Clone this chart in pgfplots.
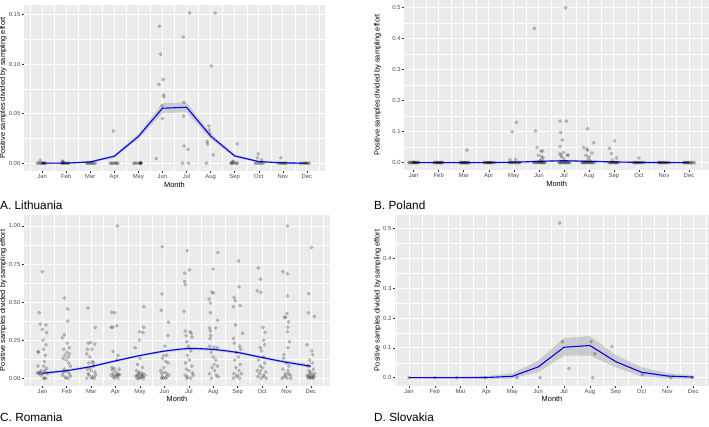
\documentclass[border=0pt]{standalone}
\usepackage{pgfplots}
\pgfplotsset{compat=1.18}
\usepackage{fontspec}
\setmainfont{Liberation Sans}
\definecolor{ggbg}{HTML}{EBEBEB}
\definecolor{ggtick}{HTML}{333333}
\definecolor{gglab}{HTML}{4D4D4D}
\definecolor{ggband}{HTML}{999999}
\newcommand{\labfont}{\fontsize{7.4}{8}\selectfont}
\newcommand{\tickfont}{\fontsize{5.9}{6}\selectfont}
\newcommand{\panelfont}{\fontsize{11.8}{12}\selectfont}
\pgfplotsset{
  ggp/.style={
    scale only axis,
    axis background/.style={fill=ggbg},
    axis line style={draw=none},
    grid=both,
    major grid style={white, line width=0.9pt},
    minor grid style={white, line width=0.45pt},
    tick pos=left, tick align=outside,
    major tick length=2pt, minor tick length=0pt,
    tick style={ggtick, line width=0.5pt},
    xtick={1,2,3,4,5,6,7,8,9,10,11,12},
    xticklabels={Jan,Feb,Mar,Apr,May,Jun,Jul,Aug,Sep,Oct,Nov,Dec},
    minor xtick={0.5,1.5,2.5,3.5,4.5,5.5,6.5,7.5,8.5,9.5,10.5,11.5,12.5},
    ticklabel style={font=\tickfont, text=gglab},
    xticklabel style={inner sep=1.5pt},
    yticklabel style={inner sep=1.5pt},
    /pgf/number format/assume math mode=true,
    xlabel={Month},
    ylabel={Positive samples divided by sampling effort},
    every axis x label/.style={at={([yshift=-13.5pt]axis description cs:0.5,0)}, anchor=center, font=\labfont},
    clip=true,
  },
  ylab/.style={every axis y label/.style={at={([xshift=#1]axis description cs:0,0.5)}, rotate=90, anchor=center, font=\labfont}},
  pts/.style={only marks, mark=*, mark size=1.7pt,
    mark options={fill=black, fill opacity=0.2, draw=black, draw opacity=0.22, line width=0.35pt}},
  band/.style={fill=ggband, fill opacity=0.4, draw=none},
  fit/.style={blue, line width=1.1pt},
}
\begin{document}
\begin{tikzpicture}
\path[use as bounding box] (0,0) rectangle (709pt,426pt);
% ---------------- A. Lithuania
\begin{axis}[ggp, at={(24pt,255pt)}, anchor=south west, width=301pt, height=166pt,
  xmin=0.25, xmax=12.75, ymin=-0.0079, ymax=0.1598,
  ytick={0,0.05,0.1,0.15}, minor ytick={0.025,0.075,0.125},
  yticklabel style={/pgf/number format/.cd, fixed, fixed zerofill, precision=2},
  ylab=-20.7pt]
\addplot[pts] coordinates {
(0.80,0) (0.86,0) (0.92,0) (0.97,0) (1.02,0) (1.06,0) (1.10,0) (1.15,0) (1.04,0) (0.92,0.003)
(1.82,0) (1.86,0) (1.90,0) (1.95,0) (2.00,0) (2.05,0) (2.10,0) (1.84,0.002) (1.88,0.0015)
(2.85,0) (2.90,0) (2.95,0) (3.00,0) (3.05,0) (3.10,0) (3.15,0) (3.22,0)
(3.97,0.0326) (3.83,0) (3.88,0) (3.94,0) (4.00,0) (4.05,0) (4.10,0) (4.15,0)
(4.80,0) (4.86,0) (4.92,0) (5.02,0) (5.06,0) (5.08,0) (5.10,0) (5.12,0) (5.09,0.0005)
(5.88,0.1383) (5.92,0.110) (5.85,0.0795) (6.03,0.0846) (6.06,0.067) (6.05,0.069) (5.98,0.058) (6.00,0.045) (5.74,0.0047)
(7.13,0.1517) (6.86,0.1275) (6.89,0.0614) (6.88,0.0477) (6.90,0.0175) (7.06,0.014) (6.83,0) (7.08,0)
(8.19,0.1517) (8.03,0.0983) (7.93,0.0376) (7.95,0.0336) (7.86,0.0218) (7.87,0.0195) (8.11,0.0084) (7.82,0) (7.98,0.030)
(9.10,0.0195) (8.84,0) (8.88,0) (8.92,0) (8.96,0.002) (9.00,0) (9.06,0) (9.12,0) (8.90,0.0015)
(9.98,0.0094) (9.95,0.0054) (10.12,0.003) (9.85,0) (9.92,0) (10.00,0) (10.06,0) (10.12,0) (10.20,0)
(10.92,0.0054) (10.80,0) (10.88,0) (10.95,0) (11.00,0) (11.05,0) (11.10,0) (11.15,0)
(11.72,0) (11.80,0) (11.88,0) (11.95,0) (12.00,0) (12.05,0) (12.10,0)
};
\addplot[band] coordinates {
(1,0.0008) (2,0.0008) (3,0.0022) (4,0.0085) (5,0.0295) (6,0.0605) (7,0.0615) (8,0.0300) (9,0.0088) (10,0.0025) (11,0.0010) (12,0.0008)
(12,-0.0008) (11,-0.0004) (10,0.0008) (9,0.0060) (8,0.0245) (7,0.0515) (6,0.0505) (5,0.0245) (4,0.0055) (3,0.0004) (2,-0.0008) (1,-0.0008)
} -- cycle;
\addplot[fit] coordinates {
(1,0) (2,0) (3,0.0013) (4,0.007) (5,0.027) (6,0.0555) (7,0.0565) (8,0.0275) (9,0.0073) (10,0.0016) (11,0.0003) (12,0)
};
\end{axis}
\node[anchor=base west, inner sep=0pt, font=\panelfont] at (0pt,216.7pt) {A. Lithuania};
% ---------------- B. Poland
\begin{axis}[ggp, at={(404.3pt,256pt)}, anchor=south west, width=304.7pt, height=170pt,
  xmin=0.625, xmax=12.8, ymin=-0.024, ymax=0.525,
  ytick={0,0.1,0.2,0.3,0.4,0.5}, minor ytick={0.05,0.15,0.25,0.35,0.45},
  yticklabel style={/pgf/number format/.cd, fixed, fixed zerofill, precision=1},
  ylab=-26.6pt]
\addplot[pts] coordinates {
(0.80,0) (0.84,0) (0.88,0) (0.92,0) (0.95,0) (0.98,0) (1.01,0) (1.04,0) (1.07,0) (1.10,0) (1.13,0) (1.17,0) (1.21,0) (1.00,0.002)
(1.80,0) (1.84,0) (1.88,0) (1.92,0) (1.95,0) (1.98,0) (2.01,0) (2.04,0) (2.07,0) (2.10,0) (2.13,0) (2.17,0)
(2.85,0) (2.88,0) (2.92,0) (2.95,0) (2.98,0) (3.01,0) (3.04,0) (3.07,0) (3.10,0) (3.14,0) (3.18,0) (3.22,0) (3.13,0.040)
(3.80,0) (3.84,0) (3.88,0) (3.92,0) (3.95,0) (3.98,0) (4.01,0) (4.04,0) (4.07,0) (4.10,0) (4.15,0) (4.22,0)
(4.94,0.100) (5.10,0.130) (4.85,0.009) (5.07,0.010) (4.80,0) (4.85,0) (4.90,0) (4.95,0) (5.00,0) (5.05,0) (5.10,0) (5.15,0) (5.20,0) (5.24,0)
(5.82,0.433) (5.87,0.102) (5.93,0.049) (5.98,0.024) (6.08,0.037) (6.15,0.037) (6.10,0.020) (6.17,0.016) (6.12,0.010) (6.03,0.006)
(5.78,0) (5.83,0) (5.88,0) (5.93,0) (5.97,0) (6.01,0) (6.05,0) (6.09,0) (6.13,0) (6.17,0) (6.21,0) (6.25,0)
(7.07,0.500) (6.85,0.134) (7.10,0.134) (6.87,0.097) (6.94,0.073) (6.85,0.052) (6.84,0.028) (6.88,0.024) (6.98,0.032) (7.13,0.024) (7.18,0.024) (6.92,0.018) (7.00,0.012)
(6.80,0) (6.84,0) (6.88,0) (6.92,0) (6.96,0) (7.00,0) (7.04,0) (7.08,0) (7.12,0) (7.16,0) (7.20,0) (7.25,0)
(7.95,0.109) (7.79,0.049) (7.92,0.044) (7.95,0.039) (7.89,0.023) (8.19,0.064) (8.12,0.031) (8.01,0.019) (7.97,0.011) (8.05,0.006)
(7.72,0) (7.76,0) (7.80,0) (7.84,0) (7.88,0) (7.92,0) (7.96,0) (8.00,0) (8.04,0) (8.08,0) (8.12,0) (8.16,0) (8.22,0)
(9.03,0.070) (8.82,0.046) (8.90,0.029) (9.10,0.015) (8.94,0.008) (8.80,0) (8.84,0) (8.88,0) (8.92,0) (8.96,0) (9.00,0) (9.04,0) (9.08,0) (9.12,0) (9.17,0)
(10.00,0.015) (9.78,0) (9.82,0) (9.86,0) (9.90,0) (9.94,0) (9.98,0) (10.02,0) (10.06,0) (10.10,0) (10.15,0) (10.22,0)
(10.78,0) (10.82,0) (10.86,0) (10.90,0) (10.94,0) (10.98,0) (11.02,0) (11.06,0) (11.10,0) (11.15,0) (11.22,0)
(11.78,0) (11.82,0) (11.86,0) (11.90,0) (11.94,0) (11.98,0) (12.02,0) (12.06,0) (12.10,0) (12.15,0) (12.22,0)
};
\addplot[band] coordinates {
(1,0.002) (2,0.002) (3,0.002) (4,0.002) (5,0.003) (6,0.007) (7,0.009) (8,0.007) (9,0.004) (10,0.002) (11,0.002) (12,0.002)
(12,-0.002) (11,-0.002) (10,-0.001) (9,0) (8,0.001) (7,0.003) (6,0.001) (5,-0.001) (4,-0.002) (3,-0.002) (2,-0.002) (1,-0.002)
} -- cycle;
\addplot[fit] coordinates {
(1,0) (2,0) (3,0) (4,0) (5,0.001) (6,0.004) (7,0.006) (8,0.004) (9,0.002) (10,0.0005) (11,0) (12,0)
};
\end{axis}
\node[anchor=base west, inner sep=0pt, font=\panelfont] at (374pt,216.7pt) {B. Poland};
% ---------------- C. Romania
\begin{axis}[ggp, at={(24pt,40.3pt)}, anchor=south west, width=306pt, height=170.7pt,
  xmin=0.25, xmax=12.78, ymin=-0.049, ymax=1.072,
  ytick={0,0.25,0.5,0.75,1}, minor ytick={0.125,0.375,0.625,0.875},
  yticklabel style={/pgf/number format/.cd, fixed, fixed zerofill, precision=2},
  ylab=-20.7pt]
\addplot[pts] coordinates {
(1.00,0.70) (0.87,0.43) (0.92,0.355) (1.15,0.35) (1.00,0.32) (1.18,0.30) (1.03,0.25) (1.15,0.22) (0.82,0.175) (0.85,0.17) (1.05,0.19) (1.12,0.15) (1.08,0.11) (1.05,0.08) (0.82,0.08) (1.17,0.065) (0.80,0.035) (0.92,0.035) (1.00,0.03) (1.05,0.0) (1.15,0.0) (0.88,0.04) (1.10,0.05) (0.95,0.02) (1.20,0.03) (0.85,0.03) (1.08,0.0) (0.96,0.05)
(1.91,0.527) (2.04,0.455) (2.04,0.375) (1.82,0.265) (1.90,0.285) (2.02,0.23) (2.10,0.20) (1.88,0.19) (2.00,0.17) (2.12,0.16) (1.85,0.13) (1.98,0.12) (2.08,0.10) (2.15,0.08) (1.90,0.06) (2.00,0.045) (2.10,0.03) (1.83,0.02) (1.95,0.01) (2.05,0.0) (2.15,0.015) (1.87,0.04) (1.93,0.15) (2.06,0.14) (1.97,0.0)
(2.87,0.462) (3.17,0.333) (2.88,0.23) (2.98,0.235) (3.15,0.225) (2.85,0.19) (3.03,0.19) (2.82,0.16) (2.95,0.14) (3.05,0.11) (2.90,0.10) (3.10,0.08) (2.85,0.06) (3.00,0.05) (3.15,0.04) (2.92,0.02) (3.05,0.01) (2.82,0.0) (3.12,0.0) (2.97,0.07) (3.08,0.10) (2.88,0.03) (3.02,0.0) (3.18,0.02)
(4.07,1.0) (3.84,0.433) (3.96,0.43) (3.82,0.335) (3.88,0.335) (4.05,0.345) (3.90,0.175) (4.10,0.15) (4.05,0.12) (3.85,0.07) (3.95,0.065) (4.15,0.06) (4.00,0.045) (3.90,0.03) (4.12,0.02) (4.05,0.015) (3.82,0.02) (3.95,0.0) (4.17,0.025) (4.10,0.0) (3.87,0.055) (4.02,0.02) (3.92,0.01) (4.08,0.03)
(5.16,0.47) (5.15,0.335) (4.98,0.305) (5.12,0.30) (4.98,0.25) (4.80,0.20) (5.00,0.13) (4.90,0.09) (5.10,0.07) (4.85,0.05) (5.00,0.04) (5.12,0.03) (4.90,0.02) (5.05,0.01) (4.95,0.0) (5.15,0.0) (4.83,0.015) (5.07,0.025) (5.20,0.02) (4.93,0.035) (5.02,0.0) (5.10,0.01) (4.88,0.0) (4.97,0.02)
(5.91,0.864) (5.90,0.553) (5.87,0.446) (6.17,0.368) (6.15,0.28) (6.02,0.21) (5.98,0.15) (6.10,0.15) (5.92,0.13) (6.05,0.11) (6.15,0.10) (5.98,0.07) (5.85,0.05) (6.10,0.03) (5.92,0.01) (6.05,0.0) (5.88,0.0) (6.18,0.02) (6.00,0.04) (5.95,0.0) (6.08,0.01) (5.90,0.03)
(6.93,0.838) (7.03,0.711) (6.83,0.69) (6.82,0.635) (6.86,0.615) (6.80,0.44) (6.85,0.31) (7.05,0.305) (7.10,0.295) (6.92,0.24) (6.98,0.21) (7.08,0.18) (6.95,0.15) (7.02,0.12) (6.87,0.10) (7.12,0.08) (6.90,0.06) (7.00,0.05) (7.15,0.035) (6.85,0.02) (6.95,0.01) (7.08,0.0) (6.92,0.0) (7.18,0.02) (6.89,0.28) (7.13,0.27)
(8.19,0.825) (7.99,0.717) (7.94,0.566) (8.01,0.56) (7.83,0.52) (7.88,0.495) (7.88,0.43) (8.18,0.38) (7.85,0.33) (7.88,0.31) (8.10,0.33) (7.90,0.28) (7.85,0.21) (8.02,0.205) (8.16,0.20) (7.92,0.17) (8.00,0.14) (8.10,0.12) (8.17,0.08) (7.95,0.07) (8.05,0.05) (7.85,0.03) (8.12,0.02) (7.93,0.0) (8.20,0.01) (7.87,0.26) (8.03,0.09)
(9.04,0.77) (9.06,0.60) (8.85,0.53) (8.90,0.51) (9.10,0.477) (8.82,0.47) (8.92,0.35) (9.20,0.295) (8.83,0.26) (9.08,0.21) (9.12,0.19) (8.95,0.17) (9.02,0.14) (8.88,0.12) (9.10,0.09) (8.93,0.07) (9.05,0.05) (8.85,0.03) (9.15,0.03) (8.95,0.01) (8.82,0.0) (9.08,0.0) (9.00,0.02) (8.86,0.23)
(9.84,0.724) (9.94,0.65) (9.80,0.575) (9.95,0.565) (10.03,0.335) (10.12,0.30) (10.06,0.25) (10.10,0.22) (9.93,0.20) (9.98,0.18) (10.05,0.14) (9.85,0.12) (10.10,0.10) (9.92,0.08) (10.02,0.07) (9.80,0.05) (10.15,0.04) (9.90,0.03) (10.05,0.02) (9.97,0.0) (10.17,0.0) (9.83,0.01) (9.95,0.05) (10.08,0.01)
(11.04,1.0) (10.85,0.70) (11.04,0.686) (11.05,0.54) (11.02,0.425) (10.92,0.40) (10.96,0.40) (11.08,0.37) (11.05,0.335) (11.03,0.305) (11.12,0.24) (10.90,0.155) (11.06,0.20) (10.88,0.13) (11.00,0.10) (11.10,0.08) (10.85,0.06) (11.05,0.05) (10.95,0.03) (11.15,0.02) (10.90,0.01) (11.02,0.0) (11.18,0.0) (10.82,0.0) (11.08,0.03) (10.98,0.015)
(12.02,0.858) (11.91,0.555) (11.90,0.43) (12.14,0.405) (11.84,0.22) (12.03,0.18) (12.07,0.155) (11.95,0.12) (12.05,0.10) (11.88,0.08) (12.10,0.06) (11.92,0.05) (12.00,0.04) (12.15,0.03) (11.85,0.02) (11.95,0.015) (12.05,0.01) (12.10,0.0) (11.90,0.0) (12.00,0.0) (11.98,0.005) (12.08,0.02) (11.87,0.01) (12.13,0.01) (11.96,0.03)
};
\addplot[band] coordinates {
(1,0.043) (2,0.058) (3,0.084) (4,0.121) (5,0.156) (6,0.186) (7,0.204) (8,0.198) (9,0.177) (10,0.144) (11,0.114) (12,0.090)
(12,0.068) (11,0.096) (10,0.128) (9,0.161) (8,0.180) (7,0.186) (6,0.170) (5,0.142) (4,0.107) (3,0.070) (2,0.042) (1,0.023)
} -- cycle;
\addplot[fit, smooth] coordinates {
(1,0.033) (2,0.050) (3,0.077) (4,0.114) (5,0.149) (6,0.178) (7,0.195) (8,0.189) (9,0.169) (10,0.136) (11,0.105) (12,0.079)
};
\end{axis}
\node[anchor=base west, inner sep=0pt, font=\panelfont] at (0pt,5pt) {C. Romania};
% ---------------- D. Slovakia
\begin{axis}[ggp, at={(395pt,40.3pt)}, anchor=south west, width=314pt, height=170.7pt,
  xmin=0.46, xmax=12.61, ymin=-0.027, ymax=0.546,
  ytick={0,0.1,0.2,0.3,0.4,0.5}, minor ytick={0.05,0.15,0.25,0.35,0.45},
  yticklabel style={/pgf/number format/.cd, fixed, fixed zerofill, precision=1},
  ylab=-17.3pt]
\addplot[pts] coordinates {
(6.83,0.519) (6.94,0.121) (7.19,0.031) (8.05,0.121) (8.19,0.080) (8.11,0) (8.85,0.104) (10.03,0.010) (6.07,0) (5.18,0) (11.14,0) (1.00,0) (2.00,0) (2.85,0) (3.95,0) (11.98,0)
};
\addplot[band] coordinates {
(1,0.003) (2,0.003) (3,0.003) (4,0.005) (5,0.015) (6,0.057) (7,0.133) (8,0.140) (9,0.076) (10,0.035) (11,0.015) (12,0.008)
(12,-0.004) (11,-0.002) (10,0.004) (9,0.035) (8,0.074) (7,0.074) (6,0.018) (5,-0.003) (4,-0.003) (3,-0.003) (2,-0.003) (1,-0.003)
} -- cycle;
\addplot[fit] coordinates {
(1,0) (2,0) (3,0) (4,0.0005) (5,0.0045) (6,0.036) (7,0.102) (8,0.108) (9,0.054) (10,0.018) (11,0.0056) (12,0.002)
};
\end{axis}
\node[anchor=base west, inner sep=0pt, font=\panelfont] at (374pt,5pt) {D. Slovakia};
\end{tikzpicture}
\end{document}
